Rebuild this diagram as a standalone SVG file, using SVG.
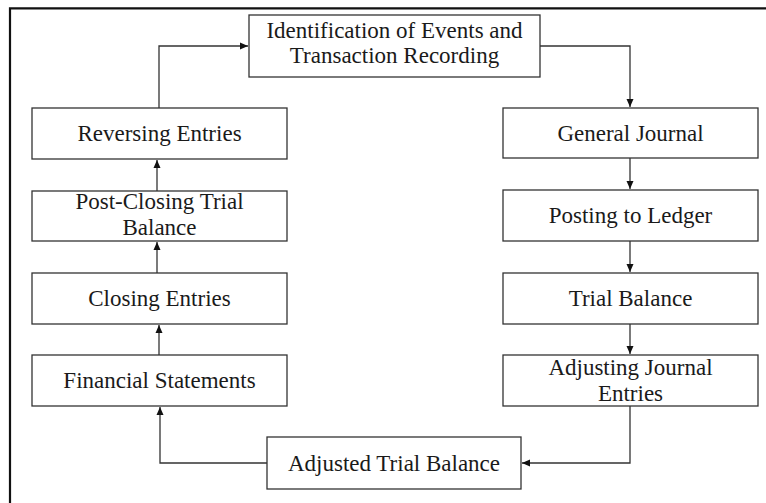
<svg xmlns="http://www.w3.org/2000/svg" width="766" height="503" viewBox="0 0 766 503">
  <style>
    .box { fill: #ffffff; stroke: #333333; stroke-width: 1.3; }
    .label { font-family: "Liberation Serif", "Times New Roman", serif; font-size: 23px; fill: #1a1a1a; text-anchor: middle; }
    .conn { fill: none; stroke: #333333; stroke-width: 1.3; marker-end: url(#arrow); }
    .frame { stroke: #111111; stroke-width: 2.2; fill: none; }
  </style>
  <defs>
    <marker id="arrow" viewBox="0 0 8 8" refX="8" refY="4" markerWidth="8" markerHeight="8" markerUnits="userSpaceOnUse" orient="auto">
      <path d="M0,0.5 L8,4 L0,7.5 Z" fill="#111111"/>
    </marker>
  </defs>
  <rect width="766" height="503" fill="#ffffff"/>
  <!-- outer frame: only top and left edges fall inside the canvas -->
  <path class="frame" d="M10,503 L10,8.3 L766,8.3"/>

  <g id="connectors">
    <path class="conn" d="M540,46 L630,46 L630,107"/>
    <path class="conn" d="M630,158 L630,189"/>
    <path class="conn" d="M630,241 L630,272"/>
    <path class="conn" d="M630,324 L630,354"/>
    <path class="conn" d="M630,406 L630,463 L522,463"/>
    <path class="conn" d="M267,463 L160,463 L160,407"/>
    <path class="conn" d="M159,355 L159,325"/>
    <path class="conn" d="M157,273 L157,242"/>
    <path class="conn" d="M157,191 L157,160"/>
    <path class="conn" d="M159,108 L159,46 L248,46"/>
  </g>

  <g id="identification">
    <rect class="box" x="249" y="15" width="291" height="62"/>
    <text class="label" x="394.5" y="38">Identification of Events and</text>
    <text class="label" x="394.5" y="62.5">Transaction Recording</text>
  </g>
  <g id="general-journal">
    <rect class="box" x="503" y="108" width="255" height="50"/>
    <text class="label" x="630.5" y="141">General Journal</text>
  </g>
  <g id="posting-ledger">
    <rect class="box" x="503" y="190" width="255" height="51"/>
    <text class="label" x="630.5" y="223">Posting to Ledger</text>
  </g>
  <g id="trial-balance">
    <rect class="box" x="503" y="273" width="255" height="51"/>
    <text class="label" x="630.5" y="306">Trial Balance</text>
  </g>
  <g id="adjusting-entries">
    <rect class="box" x="503" y="355" width="255" height="51"/>
    <text class="label" x="630.5" y="375">Adjusting Journal</text>
    <text class="label" x="630.5" y="401">Entries</text>
  </g>
  <g id="adjusted-trial-balance">
    <rect class="box" x="267" y="437" width="254" height="52"/>
    <text class="label" x="394" y="471">Adjusted Trial Balance</text>
  </g>
  <g id="financial-statements">
    <rect class="box" x="32" y="355" width="255" height="51"/>
    <text class="label" x="159.5" y="388">Financial Statements</text>
  </g>
  <g id="closing-entries">
    <rect class="box" x="32" y="273" width="255" height="51"/>
    <text class="label" x="159.5" y="306">Closing Entries</text>
  </g>
  <g id="post-closing">
    <rect class="box" x="32" y="191" width="255" height="50"/>
    <text class="label" x="159.5" y="209">Post-Closing Trial</text>
    <text class="label" x="159.5" y="235">Balance</text>
  </g>
  <g id="reversing-entries">
    <rect class="box" x="32" y="108" width="255" height="51"/>
    <text class="label" x="159.5" y="141">Reversing Entries</text>
  </g>
</svg>
